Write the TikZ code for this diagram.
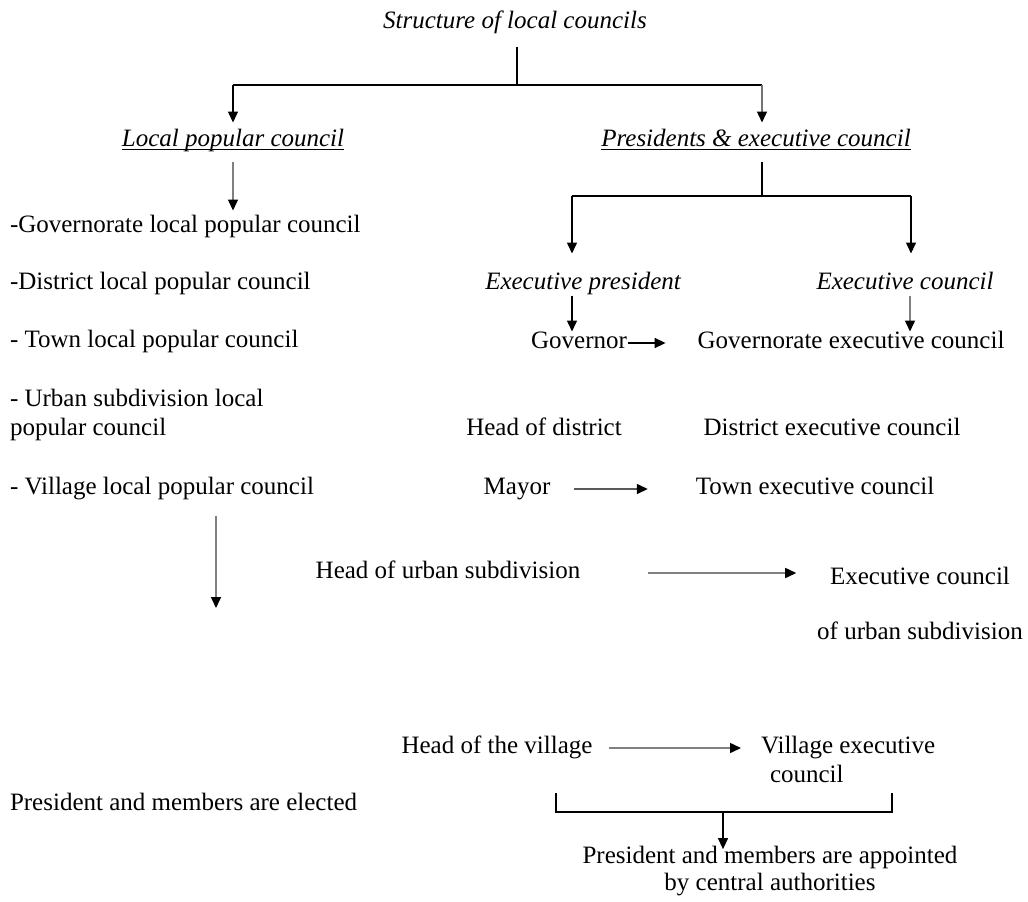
\documentclass[tikz,border=0pt]{standalone}
\usepackage{fontspec}
\setmainfont{Liberation Serif}
\usetikzlibrary{arrows.meta,calc}
\begin{document}
\begin{tikzpicture}[x=1pt,y=-1pt,
  txt/.style={inner sep=0pt, outer sep=0pt, font=\fontsize{25}{29}\selectfont, text height=17pt, text depth=6pt},
  itx/.style={txt, font=\fontsize{25}{29}\selectfont\itshape},
  mtxt/.style={inner sep=0pt, outer sep=0pt, font=\fontsize{25}{29}\selectfont},
  ln/.style={line width=1.5pt, draw=black},
  arr/.style={ln, -{Triangle[length=11pt,width=10pt,color=black,fill=black]}},
  garr/.style={arr, draw=black!50},
  uline/.style={line width=1pt, draw=black},
]
\useasboundingbox[fill=white] (0,0) rectangle (1028,902);

% ---- texts ----
\node[itx] (title) at (515,23) {Structure of local councils};
\node[itx] (lpc) at (233,141) {Local popular council};
\node[itx] (pec) at (756,141) {Presidents \& executive council};

\node[txt, anchor=west] (l1) at (10,227) {-Governorate local popular council};
\node[txt, anchor=west] (l2) at (10,284) {-District local popular council};
\node[txt, anchor=west] (l3) at (10,342) {- Town local popular council};
\node[mtxt, anchor=west, align=left] (l4) at (10,415) {- Urban subdivision local\\popular council};
\node[txt, anchor=west] (l5) at (10,489) {- Village local popular council};
\node[txt, anchor=west] (el) at (10,805) {President and members are elected};

\node[itx] (ep) at (583,284) {Executive president};
\node[itx] (ec) at (905,284) {Executive council};
\node[txt] (gov) at (579,343) {Governor};
\node[txt] (gex) at (851,343) {Governorate executive council};
\node[txt] (hd) at (544,430) {Head of district};
\node[txt] (dex) at (832,430) {District executive council};
\node[txt] (may) at (517,489) {Mayor};
\node[txt] (tex) at (815,489) {Town executive council};
\node[txt] (hus) at (448,573) {Head of urban subdivision};
\node[mtxt, align=center] (eus) at (920,603) {Executive council\\[26pt]of urban subdivision};
\node[txt] (hv) at (497,748) {Head of the village};
\node[mtxt, anchor=west, align=left] (vex) at (761,759) {Village executive\\\hspace*{9pt}council};
\node[mtxt, align=center] (app) at (770,871) {President and members are appointed\\[-2pt]by central authorities};

% ---- underlines ----
\draw[uline] ([yshift=-3pt]lpc.base west) -- ([yshift=-3pt]lpc.base east);
\draw[uline] ([yshift=-3pt]pec.base west) -- ([yshift=-3pt]pec.base east);

% ---- top tree ----
\coordinate (tj) at (517,85);
\coordinate (tl) at (233,85);
\coordinate (tr) at (762,85);
\draw[ln, shorten <=12pt] (title.south -| tj) -- (tj);
\draw[ln] (tl) -- (tr);
\draw[arr, shorten >=7pt] (tl) -- (tl |- lpc.north);
\draw[arr, draw=black!55, shorten >=7pt] (tr) -- (tr |- pec.north);

% ---- left branch ----
\draw[garr, shorten <=9pt, shorten >=5pt] (lpc.south) -- (lpc.south |- l1.north);
\coordinate (lend) at (216,608);
\draw[garr, shorten <=15pt] (l5.south -| lend) -- (lend);

% ---- right tree ----
\coordinate (rj) at (762,196);
\coordinate (rl) at (572,196);
\coordinate (rr) at (911,196);
\draw[ln, shorten <=9pt] (pec.south -| rj) -- (rj);
\draw[ln] (rl) -- (rr);
\draw[arr, shorten >=19pt] (rl) -- (rl |- ep.north);
\draw[arr, shorten >=19pt] (rr) -- (rr |- ec.north);

\draw[arr] ([xshift=-7pt]gov.north |- ep.south) -- ([xshift=-7pt]gov.north);
\draw[garr] ([xshift=5pt]ec.south) -- ([xshift=5pt]ec.south |- gex.north);

% ---- horizontal arrows ----
\draw[arr, shorten <=1pt, shorten >=32pt] (gov.east) -- (gex.west);
\draw[arr, draw=black!65, shorten <=24pt, shorten >=48pt] (may.east) -- (tex.west);
\draw[garr, shorten <=68pt, shorten >=21pt] (hus.east) -- (hus.east -| eus.west);
\draw[garr, shorten <=17pt, shorten >=20pt] (hv.east) -- (hv.east -| vex.west);

% ---- bottom bracket ----
\coordinate (bl) at (556,793);
\coordinate (br) at (892,793);
\coordinate (bm) at (723,812);
\draw[ln] (bl) -- (bl |- bm) -- (br |- bm) -- (br);
\draw[arr, line width=1.1pt, shorten >=-3pt] (bm) -- (bm |- app.north);
\end{tikzpicture}
\end{document}
